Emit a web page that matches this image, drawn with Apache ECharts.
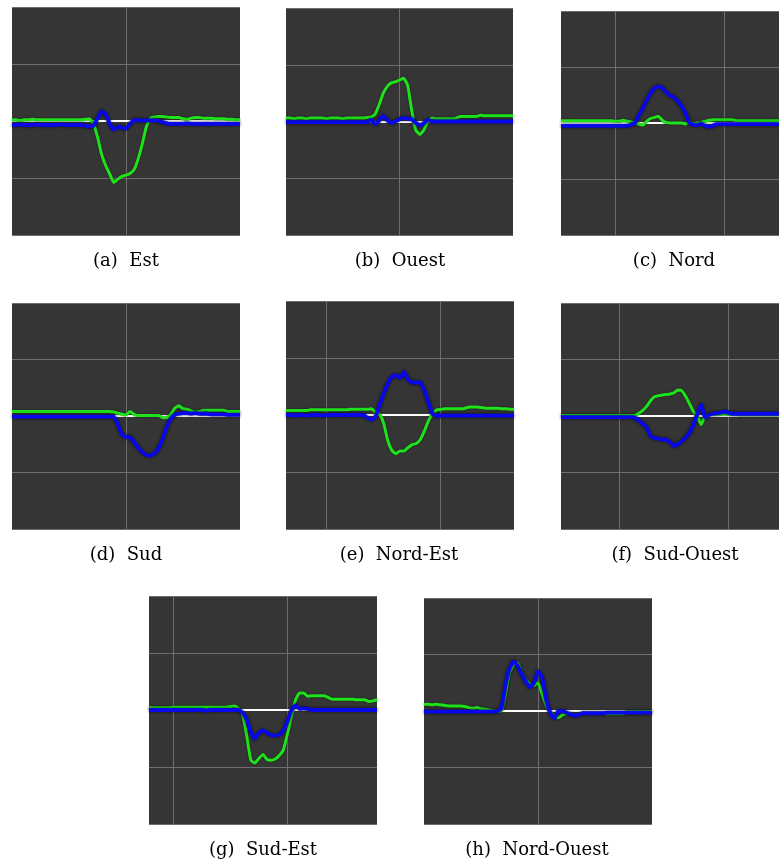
<!DOCTYPE html>
<html>
<head>
<meta charset="utf-8">
<script src="https://cdn.jsdelivr.net/npm/echarts@6/dist/echarts.min.js"></script>
<style>
  html, body { margin: 0; padding: 0; background: #ffffff; overflow: hidden; }
  #chart { width: 779px; height: 864px; }
</style>
</head>
<body>
<div id="chart"></div>
<script>
// ---- data ----
const samples = ["0","1","2","3","4","5","6","7","8","9","10","11","12","13","14","15","16","17","18","19","20","21","22","23","24","25","26","27","28","29","30","31","32","33","34","35","36","37","38","39","40","41","42","43","44","45","46","47","48","49","50","51","52","53","54","55","56"];

const captions = ["(a)  Est", "(b)  Ouest", "(c)  Nord", "(d)  Sud", "(e)  Nord-Est", "(f)  Sud-Ouest", "(g)  Sud-Est", "(h)  Nord-Ouest"];

const estGreen = [0.02,0.02,0.01,0.02,0.02,0.03,0.02,0.02,0.02,0.02,0.02,0.02,0.02,0.02,0.02,0.02,0.02,0.02,0.03,0.04,-0.05,-0.28,-0.58,-0.78,-0.93,-1.08,-1.02,-0.97,-0.95,-0.92,-0.85,-0.66,-0.40,-0.10,0.05,0.07,0.08,0.08,0.07,0.06,0.06,0.06,0.04,0.03,0.05,0.06,0.06,0.05,0.05,0.05,0.04,0.04,0.04,0.03,0.03,0.02,0.02];
const estBlue = [-0.07,-0.07,-0.06,-0.07,-0.07,-0.07,-0.06,-0.07,-0.07,-0.07,-0.07,-0.07,-0.06,-0.07,-0.07,-0.07,-0.07,-0.07,-0.08,-0.10,-0.08,0.05,0.17,0.12,-0.05,-0.15,-0.10,-0.12,-0.13,-0.05,0.02,0.01,0.01,0.01,0.01,0.01,0.00,-0.02,-0.04,-0.05,-0.05,-0.05,-0.05,-0.04,-0.05,-0.05,-0.05,-0.05,-0.05,-0.05,-0.05,-0.05,-0.05,-0.05,-0.05,-0.05,-0.05];

const ouestGreen = [0.06,0.06,0.05,0.06,0.06,0.05,0.06,0.06,0.06,0.06,0.05,0.06,0.06,0.06,0.05,0.06,0.06,0.06,0.06,0.06,0.07,0.08,0.13,0.30,0.50,0.62,0.68,0.70,0.73,0.76,0.64,0.20,-0.15,-0.23,-0.15,0.00,0.06,0.05,0.05,0.05,0.05,0.05,0.06,0.09,0.09,0.09,0.09,0.09,0.11,0.10,0.10,0.10,0.10,0.10,0.10,0.10,0.10];
const ouestBlue = [-0.01,-0.01,-0.01,-0.01,-0.01,-0.01,-0.01,-0.01,-0.01,-0.01,-0.01,-0.01,-0.01,-0.01,-0.01,-0.01,-0.01,-0.01,-0.01,-0.01,-0.01,0.03,-0.05,0.02,0.10,0.02,-0.02,0.00,0.04,0.06,0.05,0.04,-0.02,-0.07,-0.03,0.03,0.00,0.00,0.00,0.00,0.00,0.00,0.00,0.00,0.00,0.00,0.00,0.00,0.00,0.00,0.00,0.00,0.00,0.00,0.00,0.00,0.00];

const nordGreen = [0.04,0.04,0.04,0.04,0.04,0.04,0.04,0.04,0.04,0.04,0.04,0.04,0.04,0.04,0.03,0.03,0.05,0.03,0.02,0.00,-0.02,-0.04,0.03,0.08,0.10,0.12,0.05,0.01,0.00,0.00,0.00,0.00,-0.02,0.01,-0.01,0.00,0.01,0.03,0.05,0.06,0.06,0.06,0.06,0.06,0.06,0.04,0.04,0.04,0.04,0.04,0.04,0.04,0.04,0.04,0.04,0.04,0.04];
const nordBlue = [-0.05,-0.05,-0.05,-0.05,-0.05,-0.05,-0.05,-0.05,-0.05,-0.05,-0.05,-0.05,-0.05,-0.05,-0.05,-0.05,-0.05,-0.05,-0.03,0.00,0.14,0.26,0.40,0.53,0.62,0.65,0.63,0.55,0.49,0.46,0.39,0.30,0.17,0.00,-0.03,-0.04,-0.01,-0.05,-0.07,-0.05,-0.02,-0.02,-0.02,-0.02,-0.02,-0.02,-0.02,-0.02,-0.02,-0.02,-0.02,-0.02,-0.02,-0.02,-0.02,-0.02,-0.02];

const sudGreen = [0.08,0.08,0.08,0.08,0.08,0.08,0.08,0.08,0.08,0.08,0.08,0.08,0.08,0.08,0.08,0.08,0.08,0.08,0.08,0.08,0.08,0.08,0.08,0.08,0.08,0.07,0.05,0.03,0.02,0.08,0.03,0.01,0.01,0.01,0.01,0.01,0.01,-0.03,-0.03,0.03,0.14,0.18,0.13,0.12,0.09,0.07,0.08,0.10,0.10,0.10,0.10,0.10,0.10,0.08,0.08,0.08,0.08];
const sudBlue = [-0.01,-0.01,-0.01,-0.01,-0.01,-0.01,-0.01,-0.01,-0.01,-0.01,-0.01,-0.01,-0.01,-0.01,-0.01,-0.01,-0.01,-0.01,-0.01,-0.01,-0.01,-0.01,-0.01,-0.01,-0.01,-0.01,-0.15,-0.33,-0.37,-0.38,-0.46,-0.56,-0.64,-0.69,-0.70,-0.66,-0.57,-0.40,-0.20,-0.05,0.02,0.04,0.05,0.05,0.04,0.05,0.04,0.04,0.04,0.03,0.03,0.03,0.03,0.02,0.02,0.02,0.02];

const nordEstGreen = [0.08,0.08,0.08,0.08,0.08,0.08,0.09,0.09,0.09,0.09,0.09,0.09,0.09,0.09,0.09,0.09,0.10,0.10,0.10,0.10,0.10,0.11,0.05,0.01,-0.15,-0.45,-0.62,-0.68,-0.63,-0.63,-0.57,-0.52,-0.50,-0.43,-0.28,-0.10,0.02,0.09,0.10,0.11,0.11,0.11,0.11,0.11,0.12,0.14,0.14,0.14,0.13,0.12,0.12,0.12,0.12,0.11,0.11,0.10,0.10];
const nordEstBlue = [0.00,0.00,-0.01,0.00,0.00,-0.01,0.00,0.00,0.00,-0.01,0.00,0.00,0.00,0.00,0.00,0.00,0.00,0.00,0.00,0.00,-0.05,-0.08,-0.03,0.18,0.38,0.55,0.67,0.70,0.65,0.75,0.62,0.57,0.57,0.57,0.42,0.22,0.02,-0.01,-0.01,-0.01,-0.01,-0.01,-0.01,-0.01,-0.01,-0.01,-0.01,-0.01,-0.01,-0.01,-0.01,-0.01,-0.01,-0.01,-0.01,-0.01,-0.01];

const sudOuestGreen = [0.01,0.01,0.01,0.01,0.01,0.01,0.01,0.01,0.01,0.01,0.01,0.01,0.01,0.01,0.01,0.01,0.01,0.01,0.01,0.01,0.05,0.10,0.17,0.27,0.34,0.36,0.37,0.38,0.39,0.41,0.46,0.45,0.35,0.22,0.08,0.00,-0.15,0.00,0.02,0.03,0.03,0.03,0.03,0.03,0.03,0.03,0.02,0.02,0.02,0.02,0.02,0.02,0.02,0.02,0.02,0.02,0.02];
const sudOuestBlue = [-0.02,-0.02,-0.02,-0.02,-0.02,-0.02,-0.02,-0.02,-0.02,-0.02,-0.02,-0.02,-0.02,-0.02,-0.02,-0.02,-0.02,-0.02,-0.02,-0.03,-0.08,-0.14,-0.20,-0.35,-0.39,-0.40,-0.42,-0.42,-0.46,-0.53,-0.50,-0.45,-0.38,-0.30,-0.15,0.03,0.20,-0.03,0.02,0.04,0.05,0.06,0.08,0.06,0.04,0.04,0.04,0.04,0.04,0.04,0.04,0.04,0.04,0.04,0.04,0.04,0.04];

const sudEstGreen = [0.04,0.04,0.04,0.04,0.04,0.04,0.05,0.05,0.05,0.05,0.05,0.05,0.05,0.05,0.05,0.05,0.05,0.05,0.05,0.05,0.06,0.07,0.02,-0.08,-0.45,-0.88,-0.93,-0.85,-0.78,-0.87,-0.88,-0.86,-0.80,-0.70,-0.42,-0.10,0.18,0.30,0.30,0.24,0.25,0.25,0.25,0.25,0.22,0.19,0.19,0.19,0.19,0.19,0.19,0.18,0.18,0.18,0.15,0.16,0.18];
const sudEstBlue = [0.00,0.00,0.00,0.00,0.00,0.00,0.00,0.00,0.00,0.00,0.00,0.00,0.00,0.00,-0.01,0.00,0.00,0.00,0.00,0.00,0.00,0.00,0.00,-0.05,-0.17,-0.38,-0.50,-0.40,-0.36,-0.40,-0.44,-0.45,-0.43,-0.36,-0.20,0.00,0.08,0.02,0.03,0.02,0.00,0.00,0.00,0.00,0.00,0.00,0.00,0.00,0.00,0.00,0.00,0.00,0.00,0.00,0.00,0.00,0.00];

const nordOuestGreen = [0.12,0.12,0.11,0.12,0.11,0.10,0.09,0.09,0.09,0.09,0.08,0.06,0.05,0.06,0.04,0.03,0.02,0.00,0.00,0.00,0.30,0.68,0.82,0.85,0.67,0.55,0.48,0.45,0.50,0.30,0.10,-0.02,-0.08,-0.12,-0.07,-0.05,-0.05,-0.08,-0.07,-0.04,-0.04,-0.04,-0.04,-0.04,-0.04,-0.05,-0.05,-0.05,-0.05,-0.05,-0.01,-0.01,-0.01,-0.01,-0.01,-0.01,-0.01];
const nordOuestBlue = [-0.01,-0.01,-0.01,-0.01,-0.01,-0.01,-0.01,-0.01,-0.01,-0.01,-0.01,-0.01,-0.01,-0.01,-0.01,-0.01,-0.01,-0.01,0.00,0.05,0.45,0.75,0.88,0.80,0.65,0.52,0.42,0.50,0.70,0.60,0.20,-0.03,-0.13,0.00,0.00,-0.03,-0.06,-0.08,-0.07,-0.04,-0.04,-0.04,-0.04,-0.04,-0.04,-0.03,-0.03,-0.03,-0.03,-0.03,-0.03,-0.03,-0.03,-0.03,-0.03,-0.03,-0.03];

const greenSeries = [estGreen, ouestGreen, nordGreen, sudGreen, nordEstGreen, sudOuestGreen, sudEstGreen, nordOuestGreen];
const blueSeries = [estBlue, ouestBlue, nordBlue, sudBlue, nordEstBlue, sudOuestBlue, sudEstBlue, nordOuestBlue];

// ---- layout (panel boxes, vertical grid sample indices, caption centres) ----
const panels = [
  { left: 12,  top: 7,   width: 228, height: 228, vlines: [28],     cx: 126, cy: 261 },
  { left: 286, top: 8,   width: 227, height: 227, vlines: [28],     cx: 400, cy: 261 },
  { left: 561, top: 11,  width: 228, height: 224, vlines: [14, 42], cx: 674, cy: 261 },
  { left: 12,  top: 303, width: 228, height: 226, vlines: [28],     cx: 126, cy: 555 },
  { left: 286, top: 301, width: 228, height: 228, vlines: [10, 38], cx: 399, cy: 555 },
  { left: 561, top: 303, width: 228, height: 226, vlines: [15, 43], cx: 675, cy: 555 },
  { left: 149, top: 596, width: 228, height: 228, vlines: [6, 34],  cx: 263, cy: 850 },
  { left: 424, top: 598, width: 228, height: 226, vlines: [28],     cx: 537, cy: 850 }
];

const grid = [], xAxis = [], yAxis = [], series = [], graphic = [];
panels.forEach((p, i) => {
  grid.push({
    left: p.left, top: p.top, width: p.width, height: p.height,
    show: true, backgroundColor: '#353535', borderWidth: 0, containLabel: false
  });
  xAxis.push({
    type: 'category', gridIndex: i, data: samples, boundaryGap: false,
    axisLine: { show: true, onZero: true, lineStyle: { color: '#ffffff', width: 2 } },
    axisTick: { show: false }, axisLabel: { show: false },
    splitLine: {
      show: true,
      interval: (idx) => p.vlines.indexOf(idx) >= 0,
      lineStyle: { color: '#6e6e6e', width: 1 }
    }
  });
  yAxis.push({
    type: 'value', gridIndex: i, min: -2, max: 2, interval: 1,
    axisLine: { show: false }, axisTick: { show: false }, axisLabel: { show: false },
    splitLine: { show: true, lineStyle: { color: '#6e6e6e', width: 1 } }
  });
  series.push({
    type: 'line', xAxisIndex: i, yAxisIndex: i, data: greenSeries[i],
    showSymbol: false, smooth: 0.15, silent: true, z: 3,
    lineStyle: { color: '#1ee21a', width: 3, shadowColor: 'rgba(0,0,0,0.55)', shadowBlur: 2 }
  });
  series.push({
    type: 'line', xAxisIndex: i, yAxisIndex: i, data: blueSeries[i],
    showSymbol: false, smooth: 0.15, silent: true, z: 4,
    lineStyle: { color: '#0808ea', width: 3.8, shadowColor: 'rgba(0,0,0,0.7)', shadowBlur: 3 }
  });
  graphic.push({
    type: 'text', x: p.cx, y: p.cy, silent: true,
    style: {
      text: captions[i], align: 'center', verticalAlign: 'middle',
      font: '18px "DejaVu Serif"', fill: '#000000'
    }
  });
});

const chart = echarts.init(document.getElementById('chart'), null, { renderer: 'canvas' });
chart.setOption({
  animation: false,
  backgroundColor: '#ffffff',
  grid, xAxis, yAxis, series, graphic
});
</script>
</body>
</html>
